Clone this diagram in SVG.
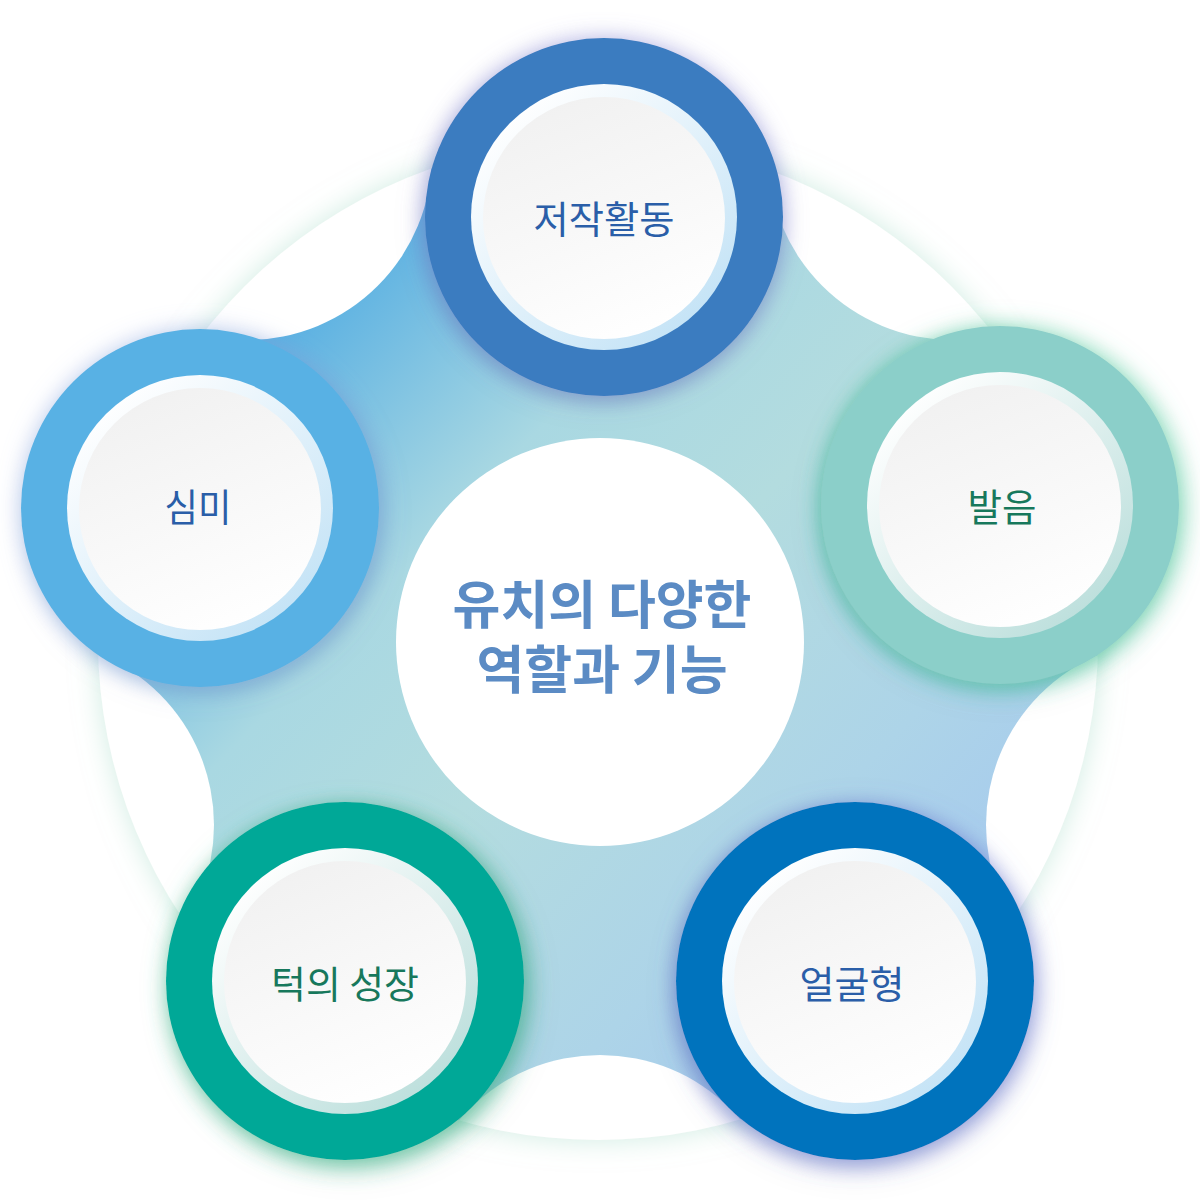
<svg xmlns="http://www.w3.org/2000/svg" width="1200" height="1200" viewBox="0 0 1200 1200">
<style>
.lbl{font-family:"Noto Sans CJK KR","Noto Sans",sans-serif;font-size:38px;text-anchor:middle}
.blue{fill:#2a5ea8}
.green{fill:#17785c}
.title{font-family:"Noto Sans CJK KR","Noto Sans",sans-serif;font-size:52px;font-weight:bold;fill:#5b8bc4;text-anchor:middle}
</style>
<defs>
<filter id="bigGlow" x="-20%" y="-20%" width="140%" height="140%">
<feDropShadow dx="0" dy="0" stdDeviation="14" flood-color="#a8dcc9" flood-opacity="0.55"/>
</filter>
<linearGradient id="bandGrad" gradientUnits="userSpaceOnUse" x1="250" y1="280" x2="1000" y2="1000">
<stop offset="0" stop-color="#48a7e2"/>
<stop offset="0.3" stop-color="#a9d8e2"/>
<stop offset="0.5" stop-color="#b3dcdf"/>
<stop offset="0.75" stop-color="#add4e8"/>
<stop offset="1" stop-color="#a4c7f0"/>
</linearGradient>
<mask id="cuts" maskUnits="userSpaceOnUse" x="0" y="0" width="1200" height="1200">
<rect x="0" y="0" width="1200" height="1200" fill="#fff"/>
<circle cx="247" cy="155" r="185" fill="#000"/>
<circle cx="953" cy="155" r="185" fill="#000"/>
<circle cx="1171" cy="825" r="185" fill="#000"/>
<circle cx="29" cy="825" r="185" fill="#000"/>
<circle cx="600" cy="1240" r="185" fill="#000"/>
</mask>
<linearGradient id="innerFill" x1="0.3" y1="0" x2="0.7" y2="1">
<stop offset="0" stop-color="#f1f1f1"/>
<stop offset="1" stop-color="#ffffff"/>
</linearGradient>
<linearGradient id="rimBlue" x1="0.15" y1="0.1" x2="0.85" y2="0.9">
<stop offset="0" stop-color="#ffffff"/>
<stop offset="1" stop-color="#c4e3f6"/>
</linearGradient>
<linearGradient id="rimGreen" x1="0.15" y1="0.1" x2="0.85" y2="0.9">
<stop offset="0" stop-color="#ffffff"/>
<stop offset="1" stop-color="#bcdfdc"/>
</linearGradient>
<filter id="shT" x="-30%" y="-30%" width="160%" height="160%">
<feDropShadow dx="0" dy="0" stdDeviation="12" flood-color="#8f8ee0" flood-opacity="0.45"/>
<feDropShadow dx="-2" dy="6" stdDeviation="8" flood-color="#1d4f8a" flood-opacity="0.35"/>
</filter>
<filter id="shL" x="-30%" y="-30%" width="160%" height="160%">
<feDropShadow dx="0" dy="0" stdDeviation="12" flood-color="#9ab2ea" flood-opacity="0.45"/>
<feDropShadow dx="4" dy="6" stdDeviation="8" flood-color="#1a6ea8" flood-opacity="0.35"/>
</filter>
<filter id="shR" x="-30%" y="-30%" width="160%" height="160%">
<feDropShadow dx="4" dy="2" stdDeviation="12" flood-color="#4fcf98" flood-opacity="0.6"/>
<feDropShadow dx="-4" dy="6" stdDeviation="8" flood-color="#2a8f8a" flood-opacity="0.35"/>
</filter>
<filter id="shBL" x="-30%" y="-30%" width="160%" height="160%">
<feDropShadow dx="2" dy="6" stdDeviation="12" flood-color="#3fc28e" flood-opacity="0.55"/>
<feDropShadow dx="4" dy="4" stdDeviation="8" flood-color="#0b6a60" flood-opacity="0.35"/>
</filter>
<filter id="shBR" x="-30%" y="-30%" width="160%" height="160%">
<feDropShadow dx="2" dy="4" stdDeviation="12" flood-color="#6a78d8" flood-opacity="0.55"/>
<feDropShadow dx="-2" dy="6" stdDeviation="8" flood-color="#0b3f80" flood-opacity="0.3"/>
</filter>
</defs>
<rect x="0" y="0" width="1200" height="1200" fill="#ffffff"/>

<g id="background">
<circle cx="598" cy="640" r="500" fill="#ffffff" filter="url(#bigGlow)"/>
<circle cx="598" cy="640" r="500" fill="url(#bandGrad)" mask="url(#cuts)"/>
</g>

<g id="connectors"></g>

<g id="center">
<circle cx="600" cy="642" r="204" fill="#ffffff"/>
<text class="title" x="602" y="624">유치의 다양한</text>
<text class="title" x="602" y="689">역할과 기능</text>
</g>

<g id="node-top">
<circle cx="604" cy="217" r="179" fill="#3a7bc0" filter="url(#shT)"/>
<circle cx="604" cy="217" r="133" fill="url(#rimBlue)"/>
<circle cx="604" cy="218" r="121" fill="url(#innerFill)"/>
<text class="lbl blue" x="604" y="233" textLength="141" lengthAdjust="spacingAndGlyphs">저작활동</text>
</g>

<g id="node-left">
<circle cx="200" cy="508" r="179" fill="#58b1e4" filter="url(#shL)"/>
<circle cx="200" cy="508" r="133" fill="url(#rimBlue)"/>
<circle cx="200" cy="509" r="121" fill="url(#innerFill)"/>
<text class="lbl blue" x="198" y="521" textLength="67" lengthAdjust="spacingAndGlyphs">심미</text>
</g>

<g id="node-right">
<circle cx="1000" cy="505" r="179" fill="#8bcfc9" filter="url(#shR)"/>
<circle cx="1000" cy="505" r="133" fill="url(#rimGreen)"/>
<circle cx="1000" cy="506" r="121" fill="url(#innerFill)"/>
<text class="lbl green" x="1002" y="521" textLength="69" lengthAdjust="spacingAndGlyphs">발음</text>
</g>

<g id="node-bottom-left">
<circle cx="345" cy="981" r="179" fill="#00a897" filter="url(#shBL)"/>
<circle cx="345" cy="981" r="133" fill="url(#rimGreen)"/>
<circle cx="345" cy="982" r="121" fill="url(#innerFill)"/>
<text class="lbl green" x="345" y="998" textLength="148" lengthAdjust="spacingAndGlyphs">턱의 성장</text>
</g>

<g id="node-bottom-right">
<circle cx="855" cy="981" r="179" fill="#0073bd" filter="url(#shBR)"/>
<circle cx="855" cy="981" r="133" fill="url(#rimBlue)"/>
<circle cx="855" cy="982" r="121" fill="url(#innerFill)"/>
<text class="lbl blue" x="852" y="998" textLength="105" lengthAdjust="spacingAndGlyphs">얼굴형</text>
</g>
</svg>
